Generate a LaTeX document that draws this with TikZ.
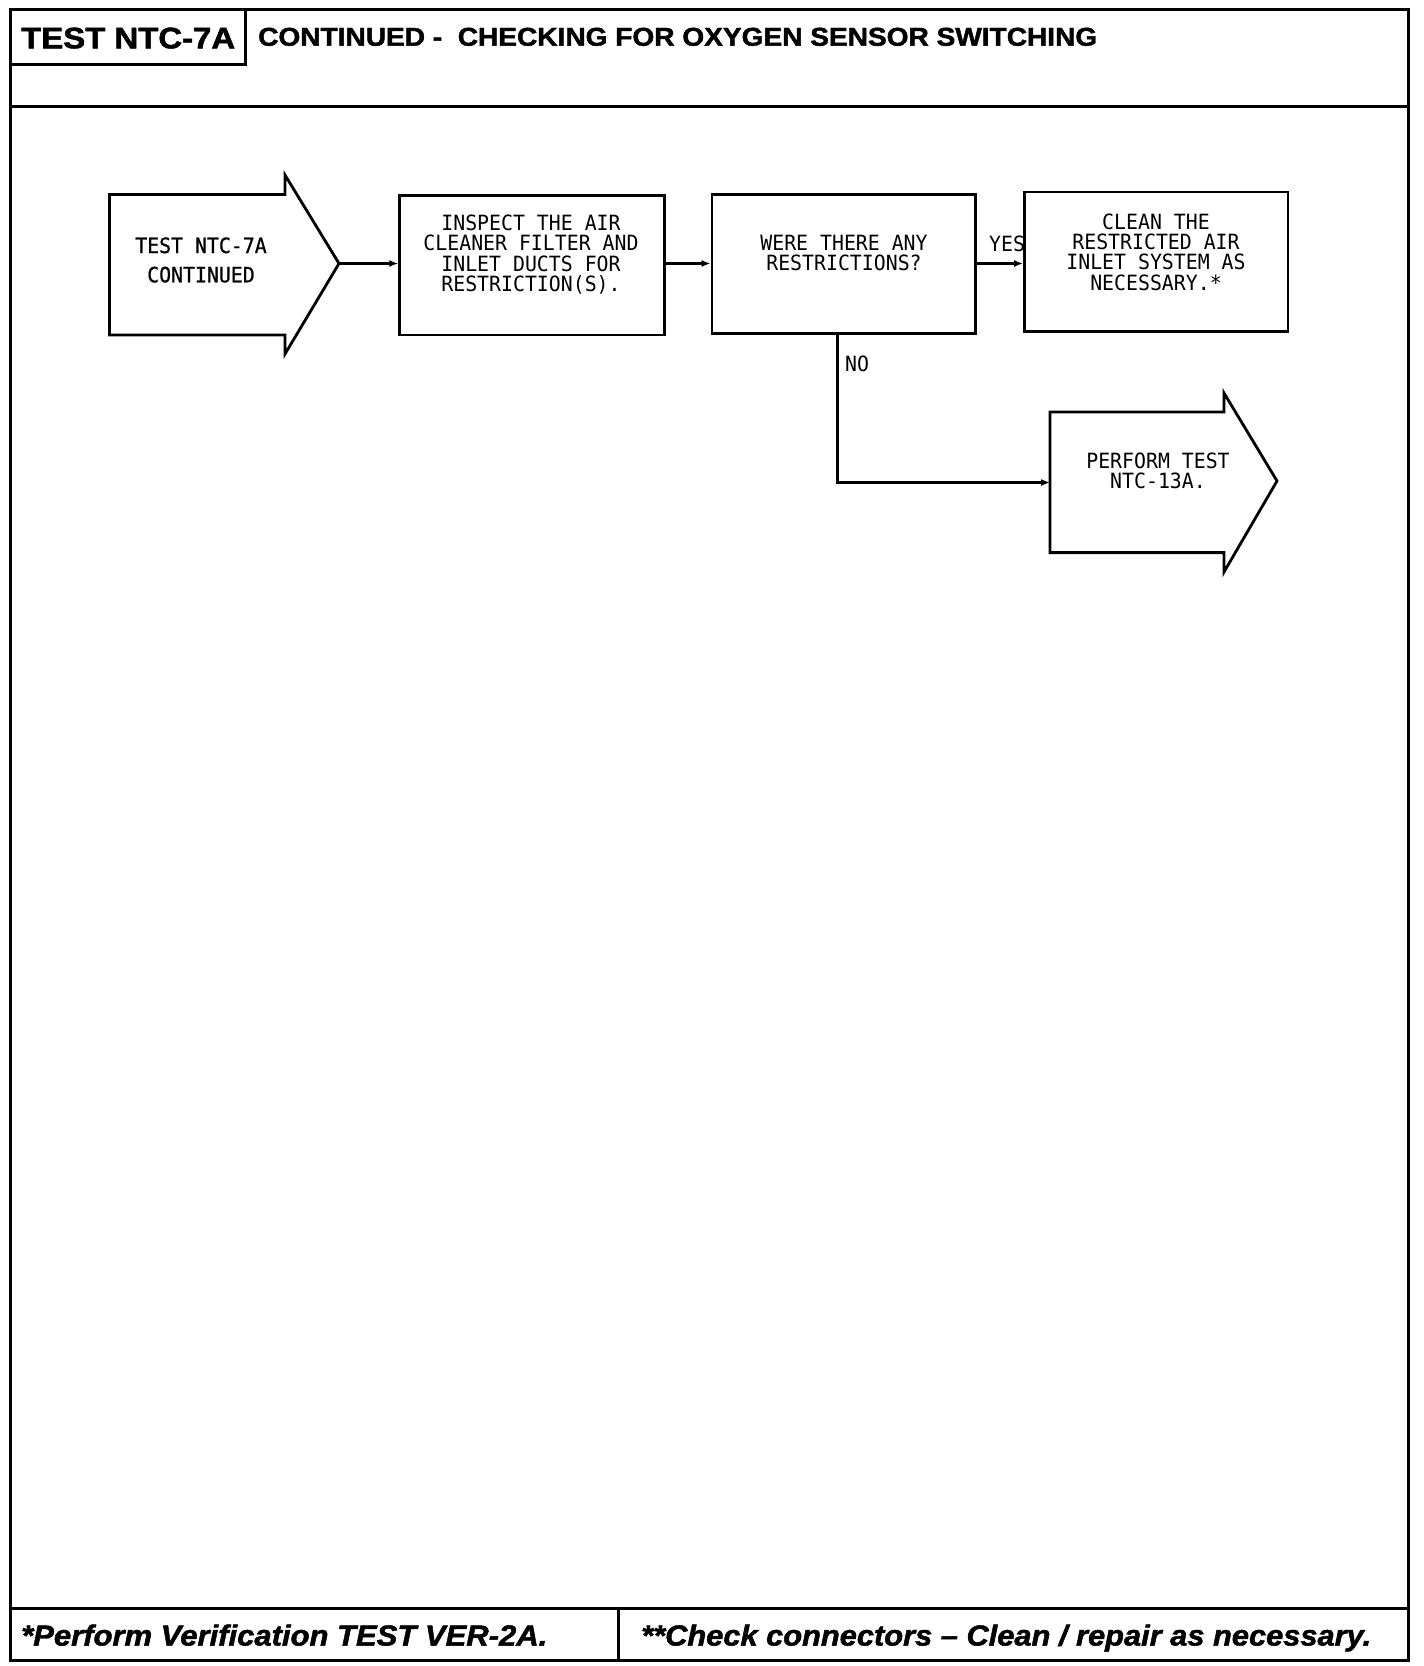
\documentclass[tikz,border=0pt]{standalone}
\usepackage{fontspec}
\setmainfont{Liberation Sans}
\newfontfamily\heavyfont[Ligatures=TeX,BoldFeatures={FakeBold=1.6},BoldItalicFeatures={FakeBold=1.6}]{Liberation Sans}
\newfontfamily\plotfont[FakeStretch=0.945]{DejaVu Sans Mono}
\newfontfamily\plotboldfont[FakeStretch=0.945,FakeBold=0.8]{DejaVu Sans Mono}
\usetikzlibrary{arrows.meta}
\begin{document}
\begin{tikzpicture}[x=1pt,y=-1pt,
  frame/.style={line width=3pt},
  stepbox/.style={draw,line width=2.8pt,inner sep=0pt},
  shapeline/.style={line width=2.8pt,line join=miter},
  conn/.style={line width=2.5pt,-{Latex[length=9pt,width=7pt]}},
  flow/.style={font=\plotfont\fontsize{21}{20.3}\selectfont,align=center,inner sep=0pt},
  lab/.style={font=\plotfont\fontsize{21}{20.3}\selectfont,inner sep=0pt}]
\useasboundingbox (0,0) rectangle (1424,1666);
% frame
\draw[frame] (10,9) rectangle (1408,1660);
\draw[frame] (10,106) -- (1408,106);
\draw[frame] (10,1608) -- (1408,1608);
\draw[frame] (618,1608) -- (618,1660);
\draw[frame] (10,64) -- (245,64) -- (245,9);
% header texts
\node[anchor=base west,inner sep=0pt] (ttl) at (21,48.3) {\resizebox{214pt}{20.7pt}{\heavyfont\bfseries TEST NTC-7A}};
\node[anchor=base west,inner sep=0pt] (hdr) at (258,45.7) {\resizebox{839pt}{18pt}{\heavyfont\bfseries CONTINUED -\ \ CHECKING FOR OXYGEN SENSOR SWITCHING}};
% footer texts
\node[anchor=base west,inner sep=0pt] (f1) at (21,1645.5) {\resizebox{526pt}{21pt}{\heavyfont\bfseries\itshape *Perform Verification TEST VER-2A.}};
\node[anchor=base west,inner sep=0pt] (f2) at (641,1645.5) {\resizebox{730pt}{21pt}{\heavyfont\bfseries\itshape **Check connectors \textendash{} Clean / repair as necessary.}};
% start arrow
\draw[shapeline] (109.5,194.5) -- (285,194.5) -- (285,175) -- (339,263.5) -- (285,354) -- (285,335) -- (109.5,335) -- cycle;
\coordinate (a1tip) at (339,263.5);
\node[flow,font=\plotboldfont\fontsize{21}{20.3}\selectfont] (t1) at (201,260) {TEST NTC-7A\\[9pt]CONTINUED};
% boxes
\node[stepbox,minimum width=264.4pt,minimum height=139.5pt] (b2) at (532,265.25) {};
\node[flow] (t2) at (531,254.5) {INSPECT THE AIR\\CLEANER FILTER AND\\INLET DUCTS FOR\\RESTRICTION(S).};
\node[stepbox,minimum width=263.6pt,minimum height=139.2pt] (b3) at (843.8,264.1) {};
\node[flow] (t3) at (844,253) {WERE THERE ANY\\RESTRICTIONS?};
\node[stepbox,minimum width=263.5pt,minimum height=139.5pt] (b4) at (1156.25,261.75) {};
\node[flow] (t4) at (1156,252) {CLEAN THE\\RESTRICTED AIR\\INLET SYSTEM AS\\NECESSARY.*};
% final arrow
\draw[shapeline] (1050,412) -- (1224,412) -- (1224,393) -- (1277,481) -- (1224,572) -- (1224,552.6) -- (1050,552.6) -- cycle;
\coordinate (a2in) at (1050,482.5);
\node[flow] (t5) at (1158,471) {PERFORM TEST\\NTC-13A.};
% connectors
\draw[conn] (a1tip) -- (a1tip -| b2.west);
\draw[conn] (b2.east |- a1tip) -- (a1tip -| b3.west);
\draw[conn] (b3.east |- a1tip) -- (a1tip -| b4.west);
\coordinate (nobend) at (837.5,482.5);
\draw[conn] (b3.south -| nobend) -- (nobend) -- (a2in);
\node[lab,anchor=west] (yes) at (989,243.5) {YES};
\node[lab,anchor=west] (no) at (845,363.5) {NO};
\end{tikzpicture}
\end{document}
